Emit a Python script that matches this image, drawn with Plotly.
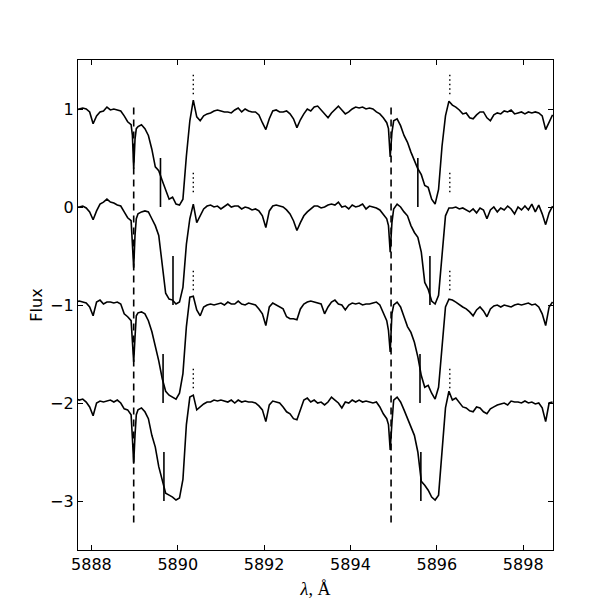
import plotly.graph_objects as go

# wavelength grid (Angstrom), shared by the four spectra
WAVE = [
    5887.64, 5887.72, 5887.80, 5887.88, 5887.96, 5888.04, 5888.12, 5888.20, 5888.28, 5888.36,
    5888.44, 5888.52, 5888.60, 5888.68, 5888.76, 5888.84, 5888.92, 5888.95, 5888.98, 5889.01,
    5889.04, 5889.08, 5889.16, 5889.24, 5889.32, 5889.40, 5889.48, 5889.56, 5889.64, 5889.72,
    5889.80, 5889.88, 5889.96, 5890.04, 5890.12, 5890.20, 5890.28, 5890.36, 5890.44, 5890.52,
    5890.60, 5890.68, 5890.76, 5890.84, 5890.92, 5891.00, 5891.08, 5891.16, 5891.24, 5891.32,
    5891.40, 5891.48, 5891.56, 5891.64, 5891.72, 5891.80, 5891.88, 5891.96, 5892.04, 5892.12,
    5892.20, 5892.28, 5892.36, 5892.44, 5892.52, 5892.60, 5892.68, 5892.76, 5892.84, 5892.92,
    5893.00, 5893.08, 5893.16, 5893.24, 5893.32, 5893.40, 5893.48, 5893.56, 5893.64, 5893.72,
    5893.80, 5893.88, 5893.96, 5894.04, 5894.12, 5894.20, 5894.28, 5894.36, 5894.44, 5894.52,
    5894.60, 5894.68, 5894.76, 5894.84, 5894.88, 5894.92, 5894.96, 5895.00, 5895.08, 5895.16,
    5895.24, 5895.32, 5895.40, 5895.48, 5895.56, 5895.64, 5895.72, 5895.80, 5895.88, 5895.96,
    5896.04, 5896.12, 5896.20, 5896.28, 5896.36, 5896.44, 5896.52, 5896.60, 5896.68, 5896.76,
    5896.84, 5896.92, 5897.00, 5897.08, 5897.16, 5897.24, 5897.32, 5897.40, 5897.48, 5897.56,
    5897.64, 5897.72, 5897.80, 5897.88, 5897.96, 5898.04, 5898.12, 5898.20, 5898.28, 5898.36,
    5898.44, 5898.52, 5898.60, 5898.68,
]

# normalised flux of each spectrum (continuum ~ 1)
FLUX_1 = [
    0.99, 1.00, 1.01, 1.00, 0.97, 0.85, 0.93, 0.97, 0.98, 1.02,
    0.99, 1.00, 0.99, 0.98, 0.93, 0.87, 0.84, 0.73, 0.39, 0.69,
    0.80, 0.82, 0.84, 0.80, 0.73, 0.59, 0.41, 0.37, 0.27, 0.17,
    0.08, 0.10, 0.03, 0.02, 0.08, 0.52, 0.88, 1.09, 0.92, 0.88,
    0.93, 0.95, 0.96, 0.98, 0.99, 0.98, 0.97, 0.97, 0.96, 0.99,
    1.01, 0.97, 1.00, 0.98, 0.97, 0.97, 0.94, 0.86, 0.79, 0.90,
    0.98, 0.99, 0.97, 0.97, 0.98, 0.95, 0.90, 0.81, 0.89, 0.95,
    1.00, 0.98, 1.02, 1.03, 0.99, 0.95, 0.91, 0.96, 1.00, 1.03,
    0.99, 0.95, 0.97, 1.00, 1.02, 1.01, 1.02, 1.00, 1.01, 1.00,
    0.97, 0.95, 0.91, 0.86, 0.80, 0.51, 0.76, 0.88, 0.90, 0.83,
    0.73, 0.66, 0.56, 0.47, 0.39, 0.33, 0.22, 0.20, 0.08, 0.03,
    0.18, 0.62, 0.93, 1.08, 1.04, 1.02, 0.99, 0.95, 0.96, 0.91,
    0.90, 0.94, 0.97, 0.97, 0.91, 0.88, 0.94, 0.96, 0.95, 0.98,
    0.97, 0.99, 0.95, 0.96, 0.97, 0.95, 0.97, 0.96, 0.97, 0.96,
    0.93, 0.79, 0.86, 0.94,
]
FLUX_2 = [
    1.00, 1.00, 1.01, 0.99, 0.95, 0.87, 0.96, 1.03, 1.05, 1.08,
    1.05, 1.04, 1.02, 1.01, 0.95, 0.89, 0.86, 0.67, 0.38, 0.71,
    0.88, 0.93, 0.95, 0.96, 0.95, 0.88, 0.81, 0.71, 0.42, 0.12,
    0.06, 0.05, 0.01, 0.03, 0.18, 0.62, 0.88, 1.03, 0.84, 0.91,
    0.98, 1.01, 1.02, 1.00, 1.01, 0.98, 1.01, 1.03, 1.00, 1.01,
    1.01, 0.98, 1.00, 0.99, 0.97, 0.98, 0.96, 0.91, 0.79, 0.96,
    1.01, 1.02, 1.01, 1.00, 0.97, 0.93, 0.86, 0.76, 0.84, 0.91,
    0.95, 0.98, 1.01, 1.01, 0.99, 1.00, 1.02, 1.03, 1.02, 1.05,
    1.00, 1.01, 0.98, 1.02, 1.00, 1.01, 1.03, 0.98, 1.01, 1.00,
    0.99, 0.97, 0.93, 0.88, 0.81, 0.54, 0.84, 0.98, 1.03, 1.00,
    0.95, 0.91, 0.81, 0.74, 0.69, 0.54, 0.23, 0.16, 0.04, 0.01,
    0.10, 0.50, 0.91, 0.99, 0.99, 1.00, 0.98, 0.99, 0.97, 0.95,
    0.98, 0.94, 0.99, 0.97, 0.88, 0.97, 1.00, 0.95, 0.99, 0.97,
    1.01, 0.98, 0.93, 1.00, 0.97, 1.01, 0.97, 1.03, 0.95, 1.02,
    0.93, 0.82, 0.94, 1.01,
]
FLUX_3 = [
    1.03, 1.04, 1.03, 1.02, 0.98, 0.89, 1.03, 1.05, 1.01, 1.03,
    1.03, 1.02, 1.03, 1.01, 0.91, 0.88, 0.84, 0.64, 0.42, 0.67,
    0.89, 0.92, 0.93, 0.91, 0.84, 0.73, 0.59, 0.43, 0.25, 0.12,
    0.08, 0.06, 0.04, 0.10, 0.30, 0.78, 1.08, 1.09, 0.95, 0.89,
    0.98, 1.00, 1.01, 1.00, 1.01, 1.02, 1.00, 1.03, 1.01, 1.01,
    1.04, 1.01, 1.00, 1.02, 1.01, 1.00, 0.96, 0.91, 0.79, 0.98,
    1.02, 1.00, 0.98, 0.96, 0.88, 0.86, 0.86, 0.85, 0.96, 1.01,
    1.03, 1.04, 1.03, 1.02, 1.01, 0.91, 0.98, 1.03, 1.05, 1.01,
    1.00, 0.95, 1.00, 1.02, 1.01, 1.02, 1.00, 1.01, 1.01, 1.02,
    1.03, 1.00, 0.91, 0.84, 0.74, 0.52, 0.91, 1.00, 1.03, 0.98,
    0.88, 0.78, 0.72, 0.62, 0.47, 0.28, 0.16, 0.18, 0.10, 0.04,
    0.16, 0.61, 0.98, 1.06, 1.05, 1.03, 1.00, 0.98, 0.96, 0.93,
    0.89, 0.95, 0.98, 0.94, 0.88, 0.96, 0.99, 1.00, 0.98, 1.00,
    0.99, 0.98, 1.00, 1.01, 1.00, 1.01, 1.02, 1.00, 1.01, 0.98,
    0.91, 0.79, 0.98, 1.03,
]
FLUX_4 = [
    1.04, 1.03, 1.04, 1.01, 0.96, 0.87, 1.00, 1.02, 1.01, 1.02,
    1.03, 1.01, 1.03, 1.00, 0.94, 0.93, 0.88, 0.64, 0.38, 0.67,
    0.88, 0.93, 0.95, 0.91, 0.84, 0.67, 0.55, 0.35, 0.21, 0.08,
    0.06, 0.04, 0.01, 0.03, 0.22, 0.78, 1.06, 1.08, 0.93, 0.96,
    0.99, 1.01, 1.01, 1.03, 1.02, 1.03, 1.02, 1.01, 1.03, 1.00,
    1.03, 1.01, 1.02, 1.01, 1.01, 1.00, 0.97, 0.93, 0.81, 0.98,
    1.02, 1.01, 1.00, 0.96, 0.91, 0.89, 0.84, 0.83, 0.93, 1.03,
    1.05, 1.01, 1.03, 1.00, 1.01, 0.98, 1.01, 1.06, 1.03, 1.00,
    0.95, 1.01, 1.00, 1.03, 1.01, 1.03, 1.01, 1.02, 1.01, 1.00,
    1.01, 0.96, 0.89, 0.84, 0.78, 0.52, 0.80, 1.03, 1.06, 1.01,
    0.93, 0.84, 0.76, 0.67, 0.50, 0.20, 0.16, 0.11, 0.04, 0.01,
    0.06, 0.50, 0.95, 1.12, 1.03, 1.05, 1.00, 0.96, 0.95, 0.92,
    0.91, 0.96, 0.95, 0.91, 0.89, 0.94, 0.96, 0.98, 0.99, 1.00,
    0.98, 1.02, 1.01, 1.01, 1.00, 1.02, 1.00, 1.01, 0.99, 1.00,
    0.95, 0.81, 1.00, 1.01,
]
SPECTRA = [FLUX_1, FLUX_2, FLUX_3, FLUX_4]
SHIFTS = [0, -1, -2, -3]

# rest wavelengths (dashed), emission peaks (dotted), absorption markers (solid)
DASH_WAVE = [5888.98, 5894.94]
DOT_WAVE = [5890.36, 5896.30]
MARK_WAVE_A = [5889.60, 5889.89, 5889.66, 5889.68]
MARK_WAVE_B = [5895.56, 5895.84, 5895.61, 5895.63]

fig = go.Figure()

for flux, shift in zip(SPECTRA, SHIFTS):
    fig.add_trace(go.Scatter(
        x=WAVE,
        y=[f + shift for f in flux],
        mode="lines",
        line=dict(color="black", width=1.6),
        hoverinfo="skip",
    ))

# dashed lines
dx, dy = [], []
for w in DASH_WAVE:
    dx += [w, w, None]
    dy += [-3.22, 1.05, None]
fig.add_trace(go.Scatter(x=dx, y=dy, mode="lines",
                         line=dict(color="black", width=1.6, dash="7px,5px")))

# dotted marks above each spectrum
ox, oy = [], []
for w in DOT_WAVE:
    for shift in SHIFTS:
        c = 1 + shift
        ox += [w, w, None]
        oy += [c + 0.15, c + 0.37, None]
fig.add_trace(go.Scatter(x=ox, y=oy, mode="lines",
                         line=dict(color="black", width=1.4, dash="1.5px,3px")))

# solid marks inside the troughs
mx, my = [], []
for marks in (MARK_WAVE_A, MARK_WAVE_B):
    for w, shift in zip(marks, SHIFTS):
        c = 1 + shift
        mx += [w, w, None]
        my += [c - 0.5, c - 1.0, None]
fig.add_trace(go.Scatter(x=mx, y=my, mode="lines",
                         line=dict(color="black", width=1.6)))

axis_style = dict(
    showline=True,
    linecolor="black",
    linewidth=1.4,
    mirror="allticks",
    ticks="inside",
    ticklen=5,
    tickcolor="black",
    showgrid=False,
    zeroline=False,
    tickfont=dict(family="DejaVu Sans", size=16, color="black"),
)

fig.update_xaxes(
    range=[5887.69, 5898.69],
    tick0=5888,
    dtick=2,
    title=dict(text="<i>λ</i>, Å", font=dict(family="Liberation Serif", size=18, color="black"),
               standoff=8),
    **axis_style,
)
fig.update_yaxes(
    range=[-3.5, 1.5],
    tick0=0,
    dtick=1,
    title=dict(text="Flux", font=dict(family="DejaVu Sans", size=16, color="black"),
               standoff=3),
    **axis_style,
)

# the page body adds an 8 px offset, so the figure is 605 px and margins are shifted
fig.update_layout(
    width=605,
    height=605,
    margin=dict(l=70, r=60, t=52, b=63),
    showlegend=False,
    plot_bgcolor="white",
    paper_bgcolor="white",
)

fig.write_html("out.html")
